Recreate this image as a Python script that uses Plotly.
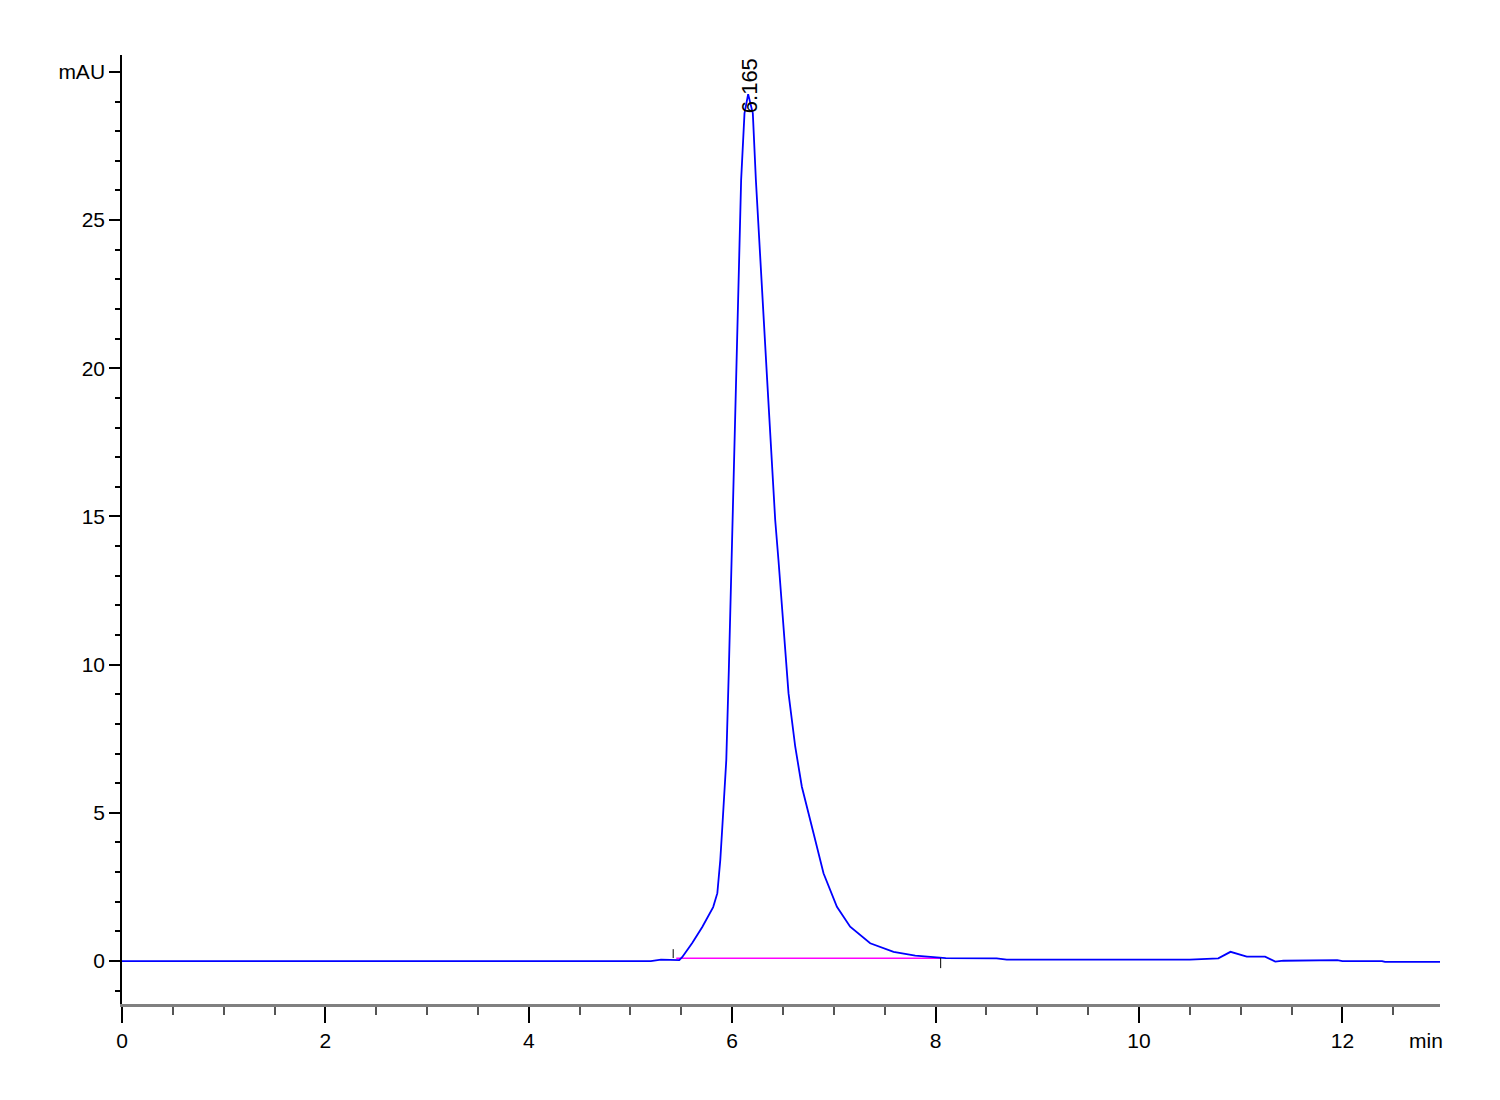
import plotly.graph_objects as go

# Chromatogram signal (time in min, absorbance in mAU)
time_min = [0, 5.2, 5.3, 5.42, 5.48, 5.508, 5.607, 5.706, 5.813, 5.854, 5.883, 5.903,
            5.942, 5.967, 6.003, 6.035, 6.088, 6.121, 6.157, 6.203, 6.233, 6.344, 6.423,
            6.455, 6.505, 6.554, 6.62, 6.685, 6.80, 6.898, 7.03, 7.16, 7.357, 7.587,
            7.8, 7.92, 8.1, 8.6, 8.7, 10.5, 10.78, 10.9, 11.06, 11.24, 11.34, 11.42,
            11.95, 12.0, 12.39, 12.42, 12.96]
signal_mau = [0, 0, 0.05, 0.05, 0.03, 0.13, 0.61, 1.15, 1.82, 2.29, 3.41, 4.52,
              6.78, 9.82, 14.88, 19.6, 26.35, 28.6, 29.25, 28.6, 26.35, 19.6, 14.88,
              13.53, 11.28, 9.03, 7.23, 5.88, 4.31, 2.96, 1.83, 1.16, 0.60, 0.31,
              0.18, 0.14, 0.1, 0.09, 0.05, 0.05, 0.09, 0.31, 0.15, 0.15, -0.02, 0.01,
              0.03, 0.0, 0.0, -0.03, -0.03]

# Integration baseline and event markers
baseline_t = [5.45, 8.05]
baseline_v = [0.09, 0.09]
marker_start_t = [5.42, 5.42]
marker_start_v = [0.1, 0.4]
marker_end_t = [8.05, 8.05]
marker_end_v = [0.1, -0.24]

peak_rt = 6.165
peak_label = "6.165"

y_tickvals = [0, 5, 10, 15, 20, 25, 30]
y_ticktext = ["0", "5", "10", "15", "20", "25", "mAU"]

FONT = "Liberation Sans, Arial"

fig = go.Figure()
fig.add_trace(go.Scatter(x=baseline_t, y=baseline_v, mode="lines",
                         line=dict(color="#FF00FF", width=1.5), hoverinfo="skip"))
fig.add_trace(go.Scatter(x=time_min, y=signal_mau, mode="lines",
                         line=dict(color="#0000FF", width=1.8)))
fig.add_trace(go.Scatter(x=marker_start_t, y=marker_start_v, mode="lines",
                         line=dict(color="black", width=1)))
fig.add_trace(go.Scatter(x=marker_end_t, y=marker_end_v, mode="lines",
                         line=dict(color="black", width=1)))

fig.add_annotation(x=peak_rt, y=29.55, text=peak_label, textangle=-90, showarrow=False,
                   xanchor="center", yanchor="middle",
                   font=dict(family=FONT, size=22, color="black"))
fig.add_annotation(x=12.82, y=-0.038, xref="x", yref="paper", text="min", showarrow=False,
                   xanchor="center", yanchor="middle",
                   font=dict(family=FONT, size=21, color="black"))

fig.update_layout(
    width=1500, height=1100,
    margin=dict(l=114, r=68, t=47, b=104),
    paper_bgcolor="white", plot_bgcolor="white",
    showlegend=False,
    font=dict(family=FONT, size=21, color="black"),
    xaxis=dict(range=[0, 12.96], tickmode="linear", tick0=0, dtick=2,
               showgrid=False, zeroline=False,
               showline=True, linecolor="#808080", linewidth=3,
               ticks="outside", ticklen=16, tickwidth=1.5, tickcolor="black",
               minor=dict(tickmode="linear", tick0=0, dtick=0.5, ticks="outside",
                          ticklen=8, tickwidth=1.5, tickcolor="#555555", showgrid=False)),
    yaxis=dict(range=[-1.45, 30.57], tickmode="array", tickvals=y_tickvals,
               ticktext=y_ticktext, showgrid=False, zeroline=False,
               showline=True, linecolor="black", linewidth=1.5,
               ticks="outside", ticklen=11, tickwidth=2, tickcolor="black",
               minor=dict(tickmode="linear", tick0=0, dtick=1, ticks="outside",
                          ticklen=5, tickwidth=1.5, tickcolor="black", showgrid=False)),
)

fig.write_html("out.html")
